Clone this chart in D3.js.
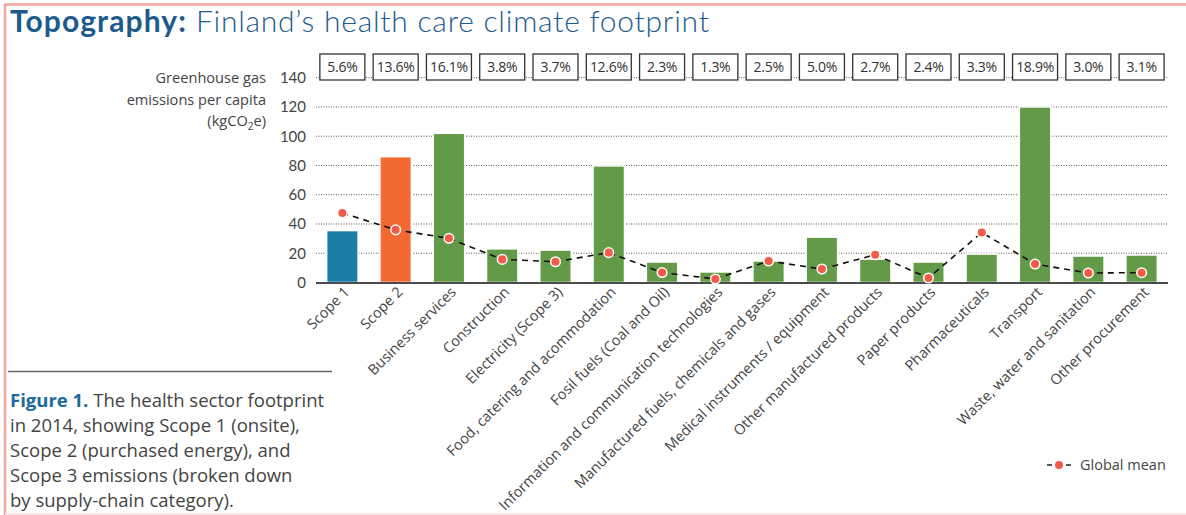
<!DOCTYPE html>
<html>
<head>
<meta charset="utf-8">
<script src="https://cdn.jsdelivr.net/npm/d3@7"></script>
<style>
  body { margin: 0; background: #fff; }
  svg { display: block; font-family: "Open Sans", Lato, sans-serif; }
</style>
</head>
<body>
<svg id="chart" width="1186" height="515"></svg>
<script>
// categories along the x axis
const categories = [
  "Scope 1", "Scope 2", "Business services", "Construction", "Electricity (Scope 3)",
  "Food, catering and acommodation", "Fosil fuels (Coal and Oil)",
  "Information and communication technologies", "Manufactured fuels, chemicals and gases",
  "Medical instruments / equipment", "Other manufactured products", "Paper products",
  "Pharmaceuticals", "Transport", "Waste, water and sanitation", "Other procurement"
]
// kgCO2e per capita (Finland)
const finland = [35.5, 86, 102, 23, 22.2, 79.7, 14, 7.2, 14.7, 31, 16, 14, 19.4, 120, 18.1, 18.8]
// global mean
const globalMean = [47.5, 36, 30.2, 15.8, 14.2, 20.4, 6.8, 2.4, 14.7, 9.2, 19, 3.1, 34.2, 12.6, 6.5, 6.7]
// share of footprint
const shares = ["5.6%", "13.6%", "16.1%", "3.8%", "3.7%", "12.6%", "2.3%", "1.3%", "2.5%", "5.0%", "2.7%", "2.4%", "3.3%", "18.9%", "3.0%", "3.1%"]
const yTicks = [0, 20, 40, 60, 80, 100, 120, 140]
const groups = ["scope1", "scope2", "scope3", "scope3", "scope3", "scope3", "scope3", "scope3",
  "scope3", "scope3", "scope3", "scope3", "scope3", "scope3", "scope3", "scope3"]

const colors = { scope1: "#1b7ea6", scope2: "#f26a32", scope3: "#629a48" }
const dotColor = "#f15b4a"
const titleBlue = "#1d5b8c"
const textGray = "#444"

const svg = d3.select("#chart")

// frame
svg.append("line").attr("x1", 5).attr("x2", 1186).attr("y1", 4.5).attr("y2", 4.5)
  .attr("stroke", "#f5a29a").attr("stroke-width", 2.5)
svg.append("line").attr("x1", 5).attr("x2", 5).attr("y1", 4).attr("y2", 515)
  .attr("stroke", "#f5a29a").attr("stroke-width", 2.5)
svg.append("line").attr("x1", 5).attr("x2", 1186).attr("y1", 514).attr("y2", 514)
  .attr("stroke", "#fce6ea").attr("stroke-width", 2)

// title
const title = svg.append("text").attr("x", 10).attr("y", 32)
  .attr("fill", titleBlue).style("font-size", "30px").style("font-family", "Lato, sans-serif")
title.append("tspan").attr("font-weight", 700).style("letter-spacing", "1.1px").text("Topography:")
title.append("tspan").attr("font-weight", 300).style("letter-spacing", "0.75px")
  .text(" Finland\u2019s health care climate footprint")

const x = d3.scaleBand()
  .domain(categories)
  .range([316, 1168])
  .paddingInner(0.41)
  .paddingOuter(0.2)

const y = d3.scaleLinear()
  .domain([0, 140])
  .range([282.5, 77.7])

// gridlines
svg.append("g")
  .selectAll("line")
  .data(yTicks.filter(d => d > 0))
  .join("line")
  .attr("x1", 316).attr("x2", 1168)
  .attr("y1", d => y(d)).attr("y2", d => y(d))
  .attr("stroke", "#555").attr("stroke-width", 1)
  .attr("stroke-dasharray", "1,1.5")

// y axis labels
const yAxis = svg.append("g")
  .attr("transform", "translate(306,0)")
  .call(d3.axisLeft(y).tickValues(yTicks).tickSize(0).tickPadding(0))
yAxis.select(".domain").remove()
yAxis.selectAll("text").attr("fill", textGray).style("font-size", "15px")
  .style("font-family", "Lato, sans-serif")

// y title
const yTitle = ["Greenhouse gas", "emissions per capita"]
yTitle.forEach((t, i) => {
  svg.append("text").attr("x", 266).attr("y", 83 + i * 21.5)
    .attr("text-anchor", "end").attr("fill", textGray).style("font-size", "14.6px").text(t)
})
const unit = svg.append("text").attr("x", 266).attr("y", 126)
  .attr("text-anchor", "end").attr("fill", textGray).style("font-size", "14.6px")
unit.append("tspan").text("(kgCO")
unit.append("tspan").attr("dy", 4).style("font-size", "10px").text("2")
unit.append("tspan").attr("dy", -4).text("e)")

// bars
svg.append("g")
  .selectAll("rect")
  .data(categories)
  .join("rect")
  .attr("x", d => x(d))
  .attr("width", x.bandwidth())
  .attr("y", (d, i) => y(finland[i]))
  .attr("height", (d, i) => y(0) - y(finland[i]))
  .attr("fill", (d, i) => colors[groups[i]])
  .attr("stroke", "#fff").attr("stroke-width", 1.5)

// baseline
svg.append("line").attr("x1", 316).attr("x2", 1168)
  .attr("y1", y(0) + 0.5).attr("y2", y(0) + 0.5)
  .attr("stroke", "#111").attr("stroke-width", 1.6)

// share boxes
const boxes = svg.append("g")
  .selectAll("g")
  .data(categories)
  .join("g")
  .attr("transform", d => `translate(${x(d) + x.bandwidth() / 2},67)`)
boxes.append("rect")
  .attr("x", -22.5).attr("y", -13).attr("width", 45).attr("height", 26)
  .attr("fill", "#fff").attr("stroke", "#333").attr("stroke-width", 1.3)
boxes.append("text")
  .attr("text-anchor", "middle").attr("dy", "0.36em")
  .attr("fill", "#333").style("font-size", "14px").style("letter-spacing", "-0.3px")
  .text((d, i) => shares[i])

// global mean line + dots
const line = d3.line()
  .x((d, i) => x(categories[i]) + x.bandwidth() / 2)
  .y(d => y(d))
svg.append("path")
  .datum(globalMean)
  .attr("d", line)
  .attr("fill", "none").attr("stroke", "#111").attr("stroke-width", 1.6)
  .attr("stroke-dasharray", "6,5")
svg.append("g")
  .selectAll("circle")
  .data(globalMean)
  .join("circle")
  .attr("cx", (d, i) => x(categories[i]) + x.bandwidth() / 2)
  .attr("cy", d => y(d))
  .attr("r", 4.8)
  .attr("fill", dotColor).attr("stroke", "#fff").attr("stroke-width", 1.5)

// x labels
svg.append("g")
  .selectAll("text")
  .data(categories)
  .join("text")
  .attr("transform", d => `translate(${x(d) + x.bandwidth() / 2 + 8},293) rotate(-45)`)
  .attr("text-anchor", "end")
  .attr("fill", textGray).style("font-size", "14.5px")
  .text(d => d)

// legend
const lg = svg.append("g").attr("transform", "translate(1047,465)")
lg.append("line").attr("x1", 0).attr("x2", 24).attr("y1", 0).attr("y2", 0)
  .attr("stroke", "#222").attr("stroke-width", 1.5).attr("stroke-dasharray", "5,14")
lg.append("circle").attr("cx", 12).attr("cy", 0).attr("r", 4).attr("fill", dotColor)
lg.append("text").attr("x", 33).attr("dy", "0.35em").attr("fill", textGray)
  .style("font-size", "14.5px").text("Global mean")

// caption
svg.append("line").attr("x1", 8).attr("x2", 332).attr("y1", 371.5).attr("y2", 371.5)
  .attr("stroke", "#666").attr("stroke-width", 1.5)
const captionLines = [
  "in 2014, showing Scope 1 (onsite),",
  "Scope 2 (purchased energy), and",
  "Scope 3 emissions (broken down",
  "by supply-chain category)."
]
const cap = svg.append("text").attr("x", 10).attr("y", 407)
  .attr("fill", textGray).style("font-size", "18.5px")
const first = cap.append("tspan").attr("x", 10)
first.append("tspan").attr("fill", "#1d6a9b").attr("font-weight", 700).text("Figure 1.")
first.append("tspan").text(" The health sector footprint")
captionLines.forEach((t, i) => {
  cap.append("tspan").attr("x", 10).attr("y", 407 + (i + 1) * 25).text(t)
})
</script>
</body>
</html>
